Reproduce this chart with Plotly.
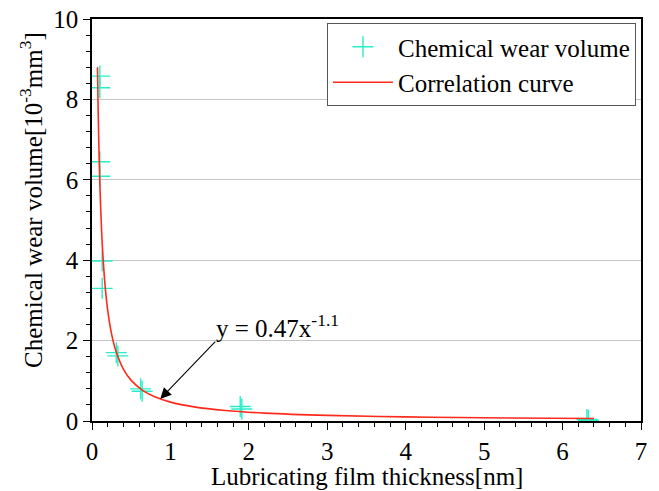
import plotly.graph_objects as go

thickness = [0.10, 0.10, 0.10, 0.10, 0.13, 0.13, 0.31, 0.33, 0.62, 0.64, 1.89, 1.91, 6.31, 6.33]
wear_volume = [8.58, 8.29, 6.45, 6.09, 3.98, 3.30, 1.70, 1.62, 0.80, 0.74, 0.36, 0.30, 0.04, 0.02]

# Correlation curve y = 0.47 x^-1.1 (values read / tabulated)
curve_x = [0.07, 0.08, 0.09, 0.10, 0.12, 0.14, 0.17, 0.20, 0.25, 0.30, 0.40, 0.50, 0.65, 0.80,
           1.0, 1.3, 1.7, 2.2, 3.0, 4.0, 5.0, 6.4]
curve_y = [8.80, 7.56, 6.65, 5.92, 4.84, 4.09, 3.30, 2.76, 2.16, 1.77, 1.29, 1.01, 0.755, 0.601,
           0.47, 0.352, 0.262, 0.197, 0.140, 0.102, 0.080, 0.061]

x_ticks = [0, 1, 2, 3, 4, 5, 6, 7]
y_ticks = [0, 2, 4, 6, 8, 10]

FONT = "Liberation Serif, Times New Roman, serif"
FS = 25

fig = go.Figure()
fig.add_trace(go.Scatter(
    x=thickness, y=wear_volume, mode="markers", name="Chemical wear volume",
    marker=dict(symbol="cross-thin-open", size=15, color="#28EEC8",
                line=dict(color="#28EEC8", width=1.4)),
))
fig.add_trace(go.Scatter(
    x=curve_x, y=curve_y, mode="lines", name="Correlation curve",
    line=dict(color="#FF2A1A", width=1.6, shape="spline"),
))

axis_common = dict(
    showline=True, linecolor="black", linewidth=1.5, mirror=True,
    ticks="outside", ticklen=7, tickwidth=1.3, tickcolor="black",
    zeroline=False, automargin=False,
    tickfont=dict(family=FONT, size=FS, color="black"),
)

fig.update_xaxes(
    range=[0, 7], tickvals=x_ticks, showgrid=False,
    minor=dict(dtick=0.2, ticks="outside", ticklen=4, tickwidth=1.2, tickcolor="black", showgrid=False),
    **axis_common,
)
fig.update_yaxes(
    range=[0, 10], tickvals=y_ticks, showgrid=True, gridcolor="#C4C4C4", gridwidth=1,
    minor=dict(dtick=0.4, ticks="outside", ticklen=4, tickwidth=1.2, tickcolor="black", showgrid=False),
    **axis_common,
)

fig.add_annotation(
    x=0.87, y=0.55, ax=1.59, ay=2.01, xref="x", yref="y", axref="x", ayref="y",
    text="", showarrow=True, arrowhead=2, arrowsize=2.0, arrowwidth=1.1, arrowcolor="black",
)
fig.add_annotation(
    x=1.56, y=2.36, xref="x", yref="y", xanchor="left", yanchor="middle",
    text="y = 0.47x<sup>-1.1</sup>", showarrow=False,
    font=dict(family=FONT, size=FS, color="black"),
)
fig.add_annotation(
    x=-0.111, y=0.55, xref="paper", yref="paper", xanchor="center", yanchor="middle",
    text="Chemical wear volume[10<sup>-3</sup>mm<sup>3</sup>]", textangle=-90, showarrow=False,
    font=dict(family=FONT, size=FS, color="black"),
)
fig.add_annotation(
    x=0.5, y=-0.139, xref="paper", yref="paper", xanchor="center", yanchor="middle",
    text="Lubricating film thickness[nm]", showarrow=False,
    font=dict(family=FONT, size=FS, color="black"),
)

fig.update_layout(
    width=659, height=491,
    margin=dict(l=92, r=18, t=19, b=70),
    paper_bgcolor="white", plot_bgcolor="white",
    showlegend=True,
    legend=dict(
        x=0.428, y=0.99, xanchor="left", yanchor="top",
        bgcolor="white", bordercolor="#555555", borderwidth=1,
        font=dict(family=FONT, size=FS, color="black"),
        itemwidth=60, tracegroupgap=0,
    ),
    font=dict(family=FONT, color="black"),
)

fig.write_html("out.html", config={"displayModeBar": False},
               post_script="document.body.style.margin='0';")
